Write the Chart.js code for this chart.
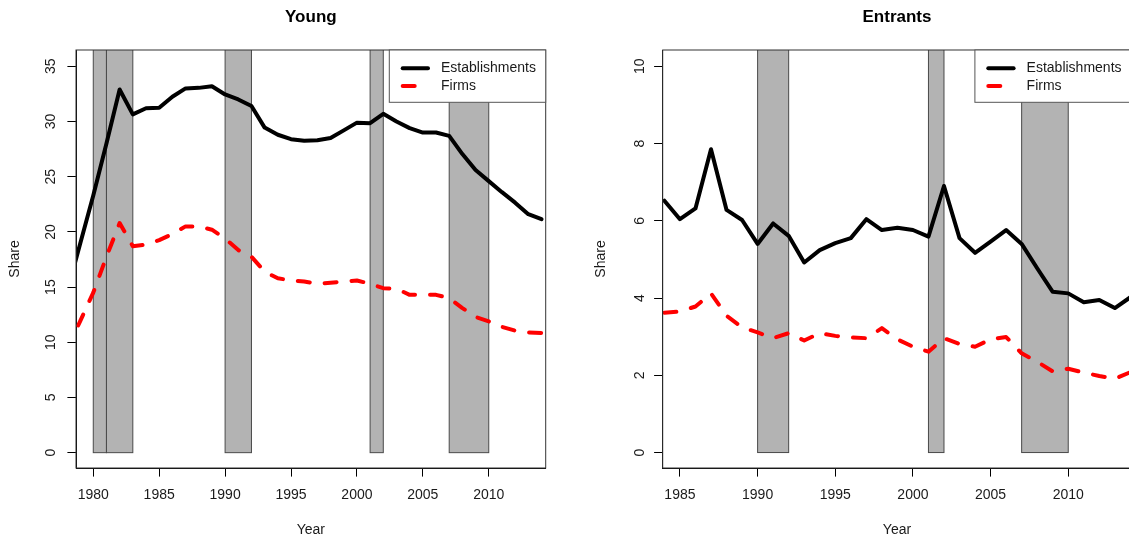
<!DOCTYPE html>
<html>
<head>
<meta charset="utf-8">
<script src="https://cdn.jsdelivr.net/npm/chart.js@4.4.1/dist/chart.umd.min.js"></script>
<style>
  html, body { margin: 0; padding: 0; background: #fff; overflow: hidden; width: 1129px; height: 540px; }
  canvas { position: absolute; top: 0; }
  #young { left: 0; }
  #entrants { left: 586px; }
</style>
</head>
<body>
<canvas id="young" width="565" height="540"></canvas>
<canvas id="entrants" width="566" height="540"></canvas>
<script>
// ---- Young: share of young establishments / firms (%) ----
const youngYears = [1978, 1979, 1980, 1981, 1982, 1983, 1984, 1985, 1986, 1987, 1988, 1989,
  1990, 1991, 1992, 1993, 1994, 1995, 1996, 1997, 1998, 1999, 2000, 2001, 2002, 2003, 2004,
  2005, 2006, 2007, 2008, 2009, 2010, 2011, 2012, 2013, 2014];
const youngEstablishments = [14.5, 18.9, 23.3, 28.0, 32.9, 30.65, 31.2, 31.25, 32.25, 33.0, 33.05, 33.2,
  32.45, 32.0, 31.4, 29.45, 28.8, 28.4, 28.25, 28.3, 28.5, 29.2, 29.9, 29.85, 30.7, 30.0, 29.4,
  29.0, 29.0, 28.7, 27.05, 25.6, 24.6, 23.6, 22.65, 21.6, 21.15];
const youngFirms = [9.3, 11.9, 14.5, 17.75, 20.8, 18.7, 18.85, 19.25, 19.8, 20.5, 20.5, 20.2,
  19.4, 18.35, 17.75, 16.4, 15.8, 15.6, 15.5, 15.3, 15.4, 15.5, 15.6, 15.3, 14.9, 14.85, 14.3,
  14.3, 14.3, 14.0, 13.1, 12.3, 11.9, 11.4, 11.05, 10.9, 10.85];

// ---- Entrants: share of entering establishments / firms (%) ----
const entrantYears = [1984, 1985, 1986, 1987, 1988, 1989, 1990, 1991, 1992, 1993, 1994, 1995,
  1996, 1997, 1998, 1999, 2000, 2001, 2002, 2003, 2004, 2005, 2006, 2007, 2008, 2009, 2010,
  2011, 2012, 2013, 2014];
const entrantEstablishments = [6.52, 6.04, 6.32, 7.85, 6.28, 6.02, 5.40, 5.93, 5.61, 4.92, 5.24, 5.42,
  5.55, 6.04, 5.76, 5.82, 5.76, 5.59, 6.90, 5.55, 5.17, 5.46, 5.76, 5.40, 4.77, 4.16, 4.12,
  3.89, 3.95, 3.74, 4.02];
const entrantFirms = [3.62, 3.65, 3.78, 4.12, 3.54, 3.24, 3.11, 2.96, 3.09, 2.90, 3.09, 3.02,
  2.98, 2.96, 3.22, 2.93, 2.74, 2.61, 2.96, 2.81, 2.74, 2.93, 2.99, 2.57, 2.35, 2.10, 2.17,
  2.07, 1.98, 1.91, 2.08];

// ---- Recession periods (shaded) ----
const recessionStart = [1980, 1981, 1990, 2001, 2007];
const recessionEnd   = [1981, 1983, 1992, 2002, 2010];

// ---- Axis ticks ----
const youngXTicks = [1980, 1985, 1990, 1995, 2000, 2005, 2010];
const youngYTicks = [0, 5, 10, 15, 20, 25, 30, 35];
const entrantXTicks = [1985, 1990, 1995, 2000, 2005, 2010];
const entrantYTicks = [0, 2, 4, 6, 8, 10];

const seriesLabels = ['Establishments', 'Firms'];
const FONT = '"Liberation Sans", Arial, Helvetica, sans-serif';
const TEXT = '#1a1a1a';

// Shaded recession bars, plot frame, heading and boxed legend
const framePlugin = {
  id: 'rFrame',
  beforeDatasetsDraw(chart) {
    const { ctx, chartArea: a, scales: { x, y } } = chart;
    ctx.save();
    ctx.beginPath();
    ctx.rect(a.left, a.top, a.right - a.left, a.bottom - a.top);
    ctx.clip();
    recessionStart.forEach((s, i) => {
      const x0 = x.getPixelForValue(s);
      const x1 = x.getPixelForValue(recessionEnd[i]);
      const yb = y.getPixelForValue(0);
      const yt = a.top - 10;
      ctx.fillStyle = '#b3b3b3';
      ctx.fillRect(x0, yt, x1 - x0, yb - yt);
      ctx.strokeStyle = '#4a4a4a';
      ctx.lineWidth = 1;
      ctx.strokeRect(x0, yt, x1 - x0, yb - yt);
    });
    ctx.restore();
  },
  afterDraw(chart, args, opts) {
    const { ctx, chartArea: a } = chart;
    ctx.save();
    // plot box
    ctx.strokeStyle = '#333';
    ctx.lineWidth = 1;
    ctx.strokeRect(a.left, a.top, a.right - a.left, a.bottom - a.top);
    // heading
    ctx.fillStyle = '#000';
    ctx.font = 'bold 17px ' + FONT;
    ctx.textAlign = 'center';
    ctx.textBaseline = 'middle';
    ctx.fillText(opts.heading, (a.left + a.right) / 2, 17);
    // legend in the top-right corner of the plot
    const lw = 156.4, lh = 52.3;
    const lx = a.right - lw, ly = a.top;
    ctx.fillStyle = '#fff';
    ctx.fillRect(lx, ly, lw, lh);
    ctx.strokeStyle = '#555';
    ctx.strokeRect(lx, ly, lw, lh);
    const rows = [ly + 18.3, ly + 36];
    chart.data.datasets.forEach((ds, i) => {
      ctx.beginPath();
      ctx.strokeStyle = ds.borderColor;
      ctx.lineWidth = ds.borderWidth;
      ctx.lineCap = 'round';
      ctx.setLineDash(ds.borderDash || []);
      ctx.moveTo(lx + 13.4, rows[i]);
      ctx.lineTo(lx + 38.7, rows[i]);
      ctx.stroke();
      ctx.setLineDash([]);
      ctx.fillStyle = TEXT;
      ctx.font = '14px ' + FONT;
      ctx.textAlign = 'left';
      ctx.textBaseline = 'middle';
      ctx.fillText(ds.label, lx + 51.7, rows[i]);
    });
    ctx.restore();
  }
};

function makeChart(id, heading, years, est, firms, xr, yr, xTicks, yTicks, yWidth, padRight, yPad) {
  const toXY = arr => arr.map((v, i) => ({ x: years[i], y: v }));
  return new Chart(document.getElementById(id), {
    type: 'line',
    data: {
      datasets: [
        { label: seriesLabels[0], data: toXY(est), borderColor: '#000000', borderWidth: 4,
          pointRadius: 0, tension: 0, borderJoinStyle: 'round', borderCapStyle: 'round', fill: false },
        { label: seriesLabels[1], data: toXY(firms), borderColor: '#ff0000', borderWidth: 4,
          borderDash: [12, 15], pointRadius: 0, tension: 0, borderJoinStyle: 'round',
          borderCapStyle: 'round', fill: false }
      ]
    },
    options: {
      responsive: false,
      animation: false,
      events: [],
      layout: { padding: { left: 0, top: 50, right: padRight, bottom: 0 } },
      plugins: {
        legend: { display: false },
        title: { display: false },
        tooltip: { enabled: false },
        rFrame: { heading: heading }
      },
      scales: {
        x: {
          type: 'linear',
          min: xr[0], max: xr[1],
          afterBuildTicks: s => { s.ticks = xTicks.map(v => ({ value: v })); },
          afterFit: s => { s.height = 72; },
          ticks: { callback: v => String(v), color: TEXT, font: { family: FONT, size: 14 },
                   padding: 10.5, maxRotation: 0, autoSkip: false },
          grid: { drawOnChartArea: false, drawTicks: true, tickLength: 8.6, color: '#000', lineWidth: 1 },
          border: { display: true, color: '#000', width: 1 },
          title: { display: true, text: 'Year', color: TEXT, font: { family: FONT, size: 14 },
                   padding: { top: 0, bottom: 1.6 } }
        },
        y: {
          type: 'linear',
          min: yr[0], max: yr[1],
          afterBuildTicks: s => { s.ticks = yTicks.map(v => ({ value: v })); },
          afterFit: s => { s.width = yWidth; },
          ticks: { callback: v => String(v), color: TEXT, font: { family: FONT, size: 14 },
                   minRotation: 90, maxRotation: 90, crossAlign: 'center', padding: yPad, autoSkip: false },
          grid: { drawOnChartArea: false, drawTicks: true, tickLength: 8.6, color: '#000', lineWidth: 1 },
          border: { display: true, color: '#000', width: 1 },
          title: { display: true, text: 'Share', color: TEXT, font: { family: FONT, size: 14 },
                   padding: { top: 6.6, bottom: 0 } }
        }
      }
    },
    plugins: [framePlugin]
  });
}

makeChart('young', 'Young', youngYears, youngEstablishments, youngFirms,
  [1978.69, 2014.32], [-1.39, 36.48], youngXTicks, youngYTicks, 76, 19.3, 8);
makeChart('entrants', 'Entrants', entrantYears, entrantEstablishments, entrantFirms,
  [1983.89, 2014.06], [-0.40, 10.42], entrantXTicks, entrantYTicks, 76.7, 20.7, 6);
</script>
</body>
</html>
